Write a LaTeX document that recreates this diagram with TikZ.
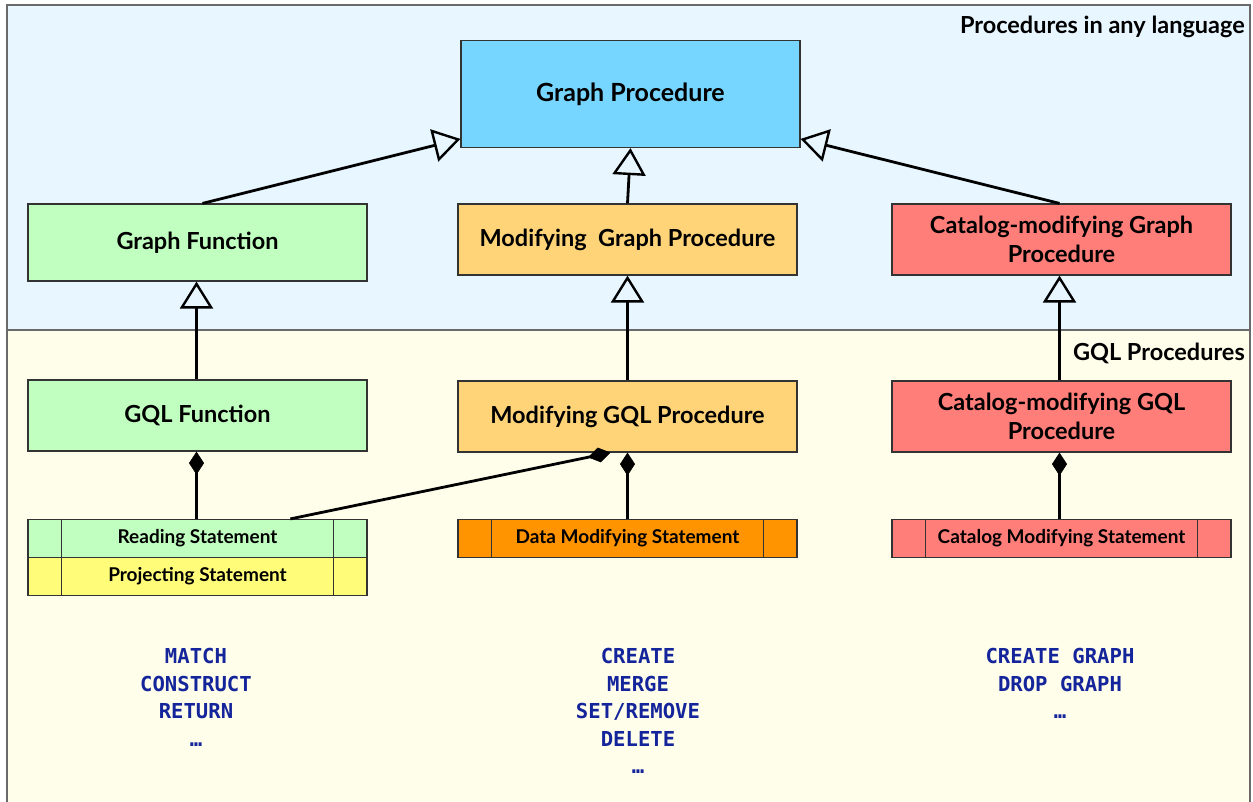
\documentclass[tikz,border=0pt]{standalone}
\usepackage{fontspec}
\setmainfont{Lato}
\newfontfamily\monof{DejaVu Sans Mono}
\usetikzlibrary{arrows.meta,calc}
\definecolor{topbg}{HTML}{E7F6FF}
\definecolor{botbg}{HTML}{FFFEEB}
\definecolor{cblue}{HTML}{76D6FF}
\definecolor{cgreen}{HTML}{C0FFC0}
\definecolor{corl}{HTML}{FFD479}
\definecolor{cred}{HTML}{FF7E79}
\definecolor{cyel}{HTML}{FFFC79}
\definecolor{corg}{HTML}{FF9300}
\definecolor{navy}{HTML}{14249A}
\definecolor{frame}{HTML}{6A6A6A}
\tikzset{
  box/.style={draw=black!80, line width=1.2pt, minimum width=339pt, inner sep=0pt, align=center,
    font=\bfseries\fontsize{23.5}{29}\selectfont},
  stmt/.style={draw=black!80, line width=1.2pt, minimum width=339pt, minimum height=38pt, inner sep=0pt,
    font=\bfseries\fontsize{19}{22}\selectfont},
  divider/.style={draw=black!80, line width=1.2pt},
  inh/.style={line width=2.8pt, -{Triangle[open,length=27pt,width=33pt,line width=2.4pt]}},
  comp/.style={line width=2.8pt, {Diamond[length=23pt,width=15pt,line width=0.5pt]}-},
  paneltitle/.style={anchor=east, inner sep=0pt, font=\bfseries\fontsize{23.5}{28}\selectfont},
  kw/.style={anchor=north, inner sep=0pt, align=center, text=navy,
    font=\monof\bfseries\fontsize{20.6}{27.5}\selectfont}
}
\begin{document}
\begin{tikzpicture}[x=1pt,y=-1pt]
\useasboundingbox (0,0) rectangle (1253,801);
% panels
\fill[botbg] (7,330) rectangle (1250,806);
\fill[topbg] (7,5) rectangle (1250,330);
\draw[frame, line width=1.2pt] (7,806) -- (7,5) -- (1250,5) -- (1250,806);
\draw[frame, line width=1.8pt] (7,330) -- (1250,330);
\node[paneltitle] (t1) at (1245,27) {Procedures in any language};
\node[paneltitle] (t2) at (1245,353) {GQL Procedures};
% class boxes
\node[box, fill=cblue, minimum height=107pt, font=\bfseries\fontsize{25}{29}\selectfont] (gp) at (630.5,94) {Graph Procedure};
\node[box, fill=cgreen, minimum height=77pt] (gf) at (197.5,242.5) {Graph Function};
\node[box, fill=corl, minimum height=71pt] (mgp) at (627.5,239.5) {Modifying\ \ Graph Procedure};
\node[box, fill=cred, minimum height=71pt] (cgp) at (1061.5,239.5) {Catalog-modifying Graph\\Procedure};
\node[box, fill=cgreen, minimum height=71pt] (gqlf) at (197.5,415.5) {GQL Function};
\node[box, fill=corl, minimum height=71pt] (mgq) at (627.5,416.5) {Modifying GQL Procedure};
\node[box, fill=cred, minimum height=71pt] (cgq) at (1061.5,416.5) {Catalog-modifying GQL\\Procedure};
% statement boxes
\node[stmt, fill=cgreen] (read) at (197.5,538.5) {Reading Statement};
\node[stmt, fill=cyel] (proj) at (197.5,576.5) {Projecting Statement};
\node[stmt, fill=corg] (dms) at (627.5,538.5) {Data Modifying Statement};
\node[stmt, fill=cred] (cms) at (1061.5,538.5) {Catalog Modifying Statement};
\foreach \n in {read,proj,dms,cms}{
  \draw[divider] ($(\n.north west)+(34,0)$) -- ($(\n.south west)+(34,0)$);
  \draw[divider] ($(\n.north east)+(-34,0)$) -- ($(\n.south east)+(-34,0)$);
}
% generalisation
\draw[inh] ($(gf.north)+(5,0)$) -- ($(gp.south west)!0.085!(gp.north west)$);
\draw[inh] (mgp.north) -- (gp.south);
\draw[inh] ($(cgp.north)+(-2,0)$) -- ($(gp.south east)!0.085!(gp.north east)$);
\draw[inh] ($(gqlf.north)+(-1,0)$) -- ($(gf.south)+(-1,0)$);
\draw[inh] (mgq.north) -- (mgp.south);
\draw[inh] ($(cgq.north)+(-2,0)$) -- ($(cgp.south)+(-2,0)$);
% composition
\draw[comp] ($(gqlf.south)+(-1,0)$) -- ($(read.north)+(-1,0)$);
\draw[comp] (mgq.south) -- (dms.north);
\draw[comp] ($(cgq.south)+(-2,0)$) -- ($(cms.north)+(-2,0)$);
\draw[comp] ($(mgq.south west)!0.45!(mgq.south east)$) -- ($(read.north west)!0.773!(read.north east)$);
% keywords
\node[kw] (k1) at (196,648) {MATCH\\CONSTRUCT\\RETURN\\…};
\node[kw] (k2) at (638,648) {CREATE\\MERGE\\SET/REMOVE\\DELETE\\…};
\node[kw] (k3) at (1060,648) {CREATE GRAPH\\DROP GRAPH\\…};
\end{tikzpicture}
\end{document}
